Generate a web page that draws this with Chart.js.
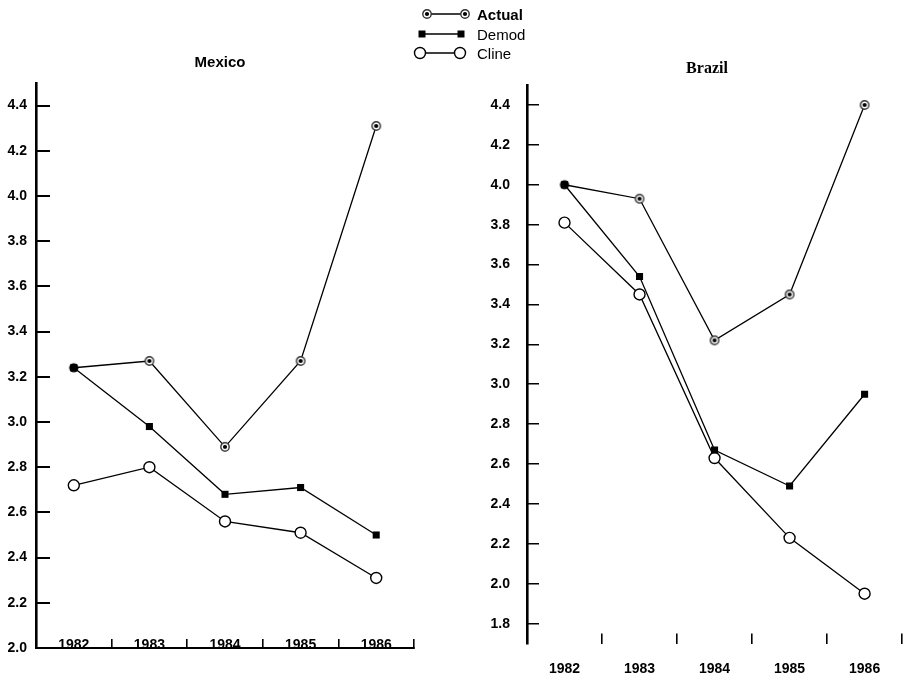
<!DOCTYPE html>
<html><head><meta charset="utf-8">
<script src="https://cdn.jsdelivr.net/npm/chart.js@4.4.1/dist/chart.umd.min.js"></script>
<style>
html,body{margin:0;padding:0;background:#fff;}
body{width:909px;height:681px;position:relative;overflow:hidden;font-family:'Liberation Sans',Arial,sans-serif;color:#000;}
#c1{position:absolute;left:0;top:0;}
#c2{position:absolute;left:450px;top:0;}
.title{position:absolute;font-weight:bold;white-space:nowrap;transform:translate(-50%,-50%);}
.leg{position:absolute;left:410px;height:18px;display:flex;align-items:center;font-size:15px;transform:translateY(-50%);}
.leg svg{display:block;margin-right:6px;}
</style></head><body>
<canvas id="c1" width="450" height="681"></canvas>
<canvas id="c2" width="459" height="681"></canvas>
<div class="title" style="left:220px;top:61px;font-size:15px;">Mexico</div>
<div class="title" style="left:707px;top:68px;font-size:16px;font-family:'Liberation Serif','Times New Roman',serif;">Brazil</div>
<div class="leg" style="top:14px;"><svg width="61" height="14"><line x1="17" y1="7" x2="55" y2="7" stroke="#000" stroke-width="1.3"/><circle cx="17" cy="7" r="4.2" fill="#fff" stroke="#333" stroke-width="1.4"/><circle cx="17" cy="7" r="2.1" fill="#000"/><circle cx="55" cy="7" r="4.2" fill="#fff" stroke="#333" stroke-width="1.4"/><circle cx="55" cy="7" r="2.1" fill="#000"/></svg><b>Actual</b></div>
<div class="leg" style="top:34px;"><svg width="61" height="14"><line x1="12" y1="7" x2="51" y2="7" stroke="#000" stroke-width="1.3"/><rect x="8.5" y="3.5" width="7" height="7" fill="#000"/><rect x="47.5" y="3.5" width="7" height="7" fill="#000"/></svg><span>Demod</span></div>
<div class="leg" style="top:53px;"><svg width="61" height="14"><line x1="10" y1="7" x2="50" y2="7" stroke="#000" stroke-width="1.3"/><circle cx="10" cy="7" r="5.5" fill="#fff" stroke="#000" stroke-width="1.4"/><circle cx="50" cy="7" r="5.5" fill="#fff" stroke="#000" stroke-width="1.4"/></svg><span>Cline</span></div>
<script>
const years = ['1982','1983','1984','1985','1986'];
const mexicoActual = [3.24, 3.27, 2.89, 3.27, 4.31];
const mexicoDemod  = [3.24, 2.98, 2.68, 2.71, 2.50];
const mexicoCline  = [2.72, 2.80, 2.56, 2.51, 2.31];
const brazilActual = [4.00, 3.93, 3.22, 3.45, 4.40];
const brazilDemod  = [4.00, 3.54, 2.67, 2.49, 2.95];
const brazilCline  = [3.81, 3.45, 2.63, 2.23, 1.95];
const mexicoTicks = [2.0,2.2,2.4,2.6,2.8,3.0,3.2,3.4,3.6,3.8,4.0,4.2,4.4];
const brazilTicks = [1.8,2.0,2.2,2.4,2.6,2.8,3.0,3.2,3.4,3.6,3.8,4.0,4.2,4.4];

function ringDot(){
  const c=document.createElement('canvas'); c.width=c.height=12;
  const g=c.getContext('2d');
  g.beginPath(); g.arc(6,6,4.2,0,2*Math.PI); g.fillStyle='#fff'; g.fill();
  g.lineWidth=1.4; g.strokeStyle='#333'; g.stroke();
  g.beginPath(); g.arc(6,6,2.1,0,2*Math.PI); g.fillStyle='#000'; g.fill();
  return c;
}
function solidDot(){
  const c=document.createElement('canvas'); c.width=c.height=12;
  const g=c.getContext('2d');
  g.beginPath(); g.arc(6,6,4.6,0,2*Math.PI); g.fillStyle='#000'; g.fill();
  return c;
}
const RING=ringDot(), SOLID=solidDot();
const FONT={family:"'Liberation Sans', Arial, sans-serif", size:14, weight:'bold'};

function makeChart(id, actual, demod, cline, tickVals, cfg){
  const datasets=[
    {label:'Actual', data:actual, borderColor:'#000', borderWidth:1.3, tension:0,
     pointStyle:ctx=>ctx.dataIndex===0?SOLID:RING, pointRadius:5, pointHoverRadius:5},
    {label:'Demod', data:demod, borderColor:'#000', borderWidth:1.3, tension:0,
     pointStyle:'rect', pointRadius:5, pointBackgroundColor:'#000', pointBorderColor:'#000', pointBorderWidth:0, pointHoverRadius:5},
    {label:'Cline', data:cline, borderColor:'#000', borderWidth:1.3, tension:0,
     pointStyle:'circle', pointRadius:5.5, pointBackgroundColor:'#fff', pointBorderColor:'#000', pointBorderWidth:1.4, pointHoverRadius:5.5}
  ];
  return new Chart(document.getElementById(id), {
    type:'line',
    data:{labels:years, datasets},
    options:{
      responsive:false, animation:false, events:[],
      layout:{padding:cfg.padding},
      plugins:{legend:{display:false}, tooltip:{enabled:false}, title:{display:false}},
      scales:{
        x:{type:'category', offset:true,
           grid:{offset:true, drawOnChartArea:false, drawTicks:true, tickLength:cfg.xTickLen, color:'#000', lineWidth:1.6},
           border:{display:cfg.xBorder, color:'#000', width:2},
           ticks:{font:FONT, color:'#000', padding:cfg.xPad, mirror:cfg.xMirror, maxRotation:0, autoSkip:false},
           afterFit:s=>{s.height=cfg.xHeight;}},
        y:{type:'linear', min:cfg.min, max:cfg.max,
           grid:{drawOnChartArea:false, drawTicks:true, tickLength:cfg.yTickLen, color:'#000', lineWidth:cfg.yTickW},
           border:{display:true, color:'#000', width:2.6},
           afterBuildTicks:s=>{s.ticks=tickVals.map(v=>({value:v}));},
           ticks:{font:FONT, color:'#000', padding:cfg.yPad, callback:v=>Number(v).toFixed(1)},
           afterFit:s=>{s.width=cfg.yWidth;}}
      }
    }
  });
}

makeChart('c1', mexicoActual, mexicoDemod, mexicoCline, mexicoTicks, {
  padding:{left:0, top:83, right:36, bottom:0}, min:2.0, max:4.5,
  xTickLen:-9, xPad:-6, xMirror:true, xHeight:33, xBorder:true,
  yTickLen:-14, yPad:23, yWidth:36, yTickW:2
});
makeChart('c2', brazilActual, brazilDemod, brazilCline, brazilTicks, {
  padding:{left:0, top:85, right:4, bottom:0}, min:1.7, max:4.5,
  xTickLen:-10, xPad:27, xMirror:false, xHeight:31, xBorder:false,
  yTickLen:-12, yPad:29, yWidth:77, yTickW:1.5
});
</script>
</body></html>
